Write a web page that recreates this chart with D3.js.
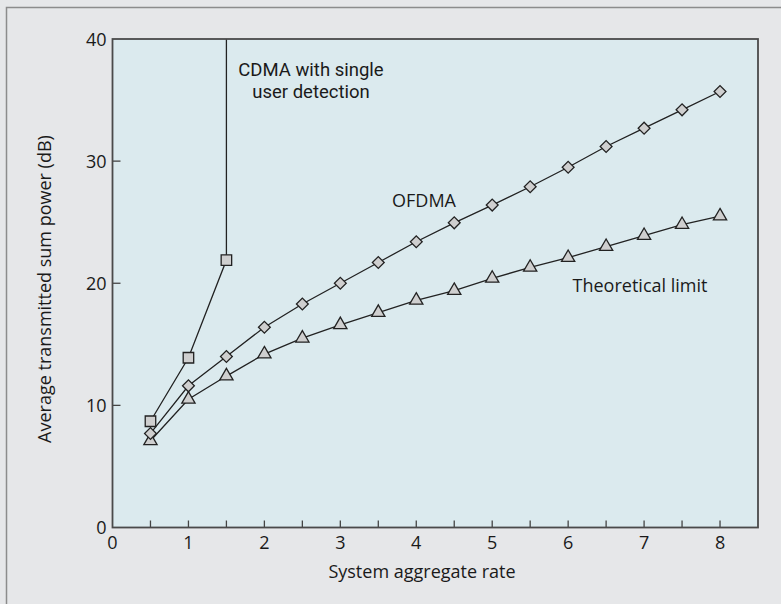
<!DOCTYPE html>
<html>
    <head>
        <meta charset="utf-8">
        <title>Sum power vs aggregate rate</title>
        <script type="text/javascript" src="https://d3js.org/d3.v7.min.js"></script>
        <style>
            body { margin: 0; background: #e6e7e9; }
            text { font-family: 'Open Sans', sans-serif; fill: #1a1a1a; }
        </style>
    </head>
    <body>
        <script type="text/javascript">
            let width = 781;
            let height = 604;

            // data
            let rates = [0.5, 1, 1.5, 2, 2.5, 3, 3.5, 4, 4.5, 5, 5.5, 6, 6.5, 7, 7.5, 8];
            let ofdma = [7.7, 11.6, 14.0, 16.4, 18.3, 20.0, 21.7, 23.4, 24.95, 26.4, 27.9, 29.5, 31.2, 32.7, 34.2, 35.7];
            let theoretical = [7.1, 10.5, 12.4, 14.2, 15.5, 16.6, 17.6, 18.6, 19.4, 20.4, 21.3, 22.1, 23.0, 23.9, 24.8, 25.5];
            let cdmaRates = [0.5, 1, 1.5];
            let cdma = [8.7, 13.9, 21.9];
            let xTicks = [0, 1, 2, 3, 4, 5, 6, 7, 8];
            let xMinorTicks = [0.5, 1, 1.5, 2, 2.5, 3, 3.5, 4, 4.5, 5, 5.5, 6, 6.5, 7, 7.5, 8];
            let yTicks = [0, 10, 20, 30, 40];

            let margin = {left: 112.5, top: 39, right: 23, bottom: 76.5};
            let plotW = width - margin.left - margin.right;
            let plotH = height - margin.top - margin.bottom;

            let svg = d3.select('body')
                .append('svg')
                .attr('width', width)
                .attr('height', height);

            // outer frame
            svg.append('rect')
                .attr('x', 6.5).attr('y', 7.5)
                .attr('width', width).attr('height', height)
                .attr('fill', '#e6e7e9')
                .attr('stroke', '#8c8c8c')
                .attr('stroke-width', 1.5);

            let x = d3.scaleLinear().domain([0, 8.5]).range([0, plotW]);
            let y = d3.scaleLinear().domain([0, 40]).range([plotH, 0]);

            let g = svg.append('g')
                .attr('transform', `translate(${margin.left},${margin.top})`);

            g.append('rect')
                .attr('width', plotW).attr('height', plotH)
                .attr('fill', '#dbeaee');

            g.append('clipPath').attr('id', 'clip')
                .append('rect').attr('width', plotW).attr('height', plotH);

            // inward ticks
            g.selectAll('.xtick')
                .data(xMinorTicks)
                .enter()
                .append('line')
                    .attr('x1', d => x(d)).attr('x2', d => x(d))
                    .attr('y1', plotH).attr('y2', plotH - 7)
                    .attr('stroke', '#444').attr('stroke-width', 1.3);

            g.selectAll('.ytick')
                .data(yTicks.slice(1, 4))
                .enter()
                .append('line')
                    .attr('x1', 0).attr('x2', 8)
                    .attr('y1', d => y(d)).attr('y2', d => y(d))
                    .attr('stroke', '#444').attr('stroke-width', 1.3);

            g.selectAll('.xlab')
                .data(xTicks)
                .enter()
                .append('text')
                    .text(d => d)
                    .attr('x', d => x(d))
                    .attr('y', plotH + 21)
                    .attr('text-anchor', 'middle')
                    .style('font-size', '18px');

            g.selectAll('.ylab')
                .data(yTicks)
                .enter()
                .append('text')
                    .text(d => d)
                    .attr('x', -6)
                    .attr('y', d => y(d) + 6.5)
                    .attr('text-anchor', 'end')
                    .style('font-size', '18px');

            svg.append('text')
                .text('System aggregate rate')
                .attr('x', 422)
                .attr('y', 578)
                .attr('text-anchor', 'middle')
                .style('font-size', '18px');

            svg.append('text')
                .text('Average transmitted sum power (dB)')
                .attr('transform', 'translate(51,289) rotate(-90)')
                .attr('text-anchor', 'middle')
                .style('font-size', '18px');

            // series lines
            let line = d3.line()
                .x(d => x(d[0]))
                .y(d => y(d[1]));

            let lines = g.append('g').attr('clip-path', 'url(#clip)');

            lines.append('path')
                .attr('d', line(rates.map((r, i) => [r, theoretical[i]])))
                .attr('fill', 'none').attr('stroke', '#222').attr('stroke-width', 1.3);

            lines.append('path')
                .attr('d', line(rates.map((r, i) => [r, ofdma[i]])))
                .attr('fill', 'none').attr('stroke', '#222').attr('stroke-width', 1.3);

            // CDMA curve goes off the scale after its last point
            let cdmaPts = cdmaRates.map((r, i) => [r, cdma[i]]);
            cdmaPts.push([cdmaRates[cdmaRates.length - 1], y.domain()[1]]);
            lines.append('path')
                .attr('d', line(cdmaPts))
                .attr('fill', 'none').attr('stroke', '#222').attr('stroke-width', 1.3);

            // markers
            let sym = (type, size) => d3.symbol().type(type).size(size)();

            g.selectAll('.tri')
                .data(rates.map((r, i) => [r, theoretical[i]]))
                .enter()
                .append('path')
                    .attr('d', sym(d3.symbolTriangle, 76))
                    .attr('transform', d => `translate(${x(d[0])},${y(d[1])})`)
                    .attr('fill', '#cfcfcf').attr('stroke', '#222').attr('stroke-width', 1.3);

            g.selectAll('.dia')
                .data(rates.map((r, i) => [r, ofdma[i]]))
                .enter()
                .append('path')
                    .attr('d', sym(d3.symbolSquare, 70))
                    .attr('transform', d => `translate(${x(d[0])},${y(d[1])}) rotate(45)`)
                    .attr('fill', '#cfcfcf').attr('stroke', '#222').attr('stroke-width', 1.3);

            g.selectAll('.sq')
                .data(cdmaRates.map((r, i) => [r, cdma[i]]))
                .enter()
                .append('path')
                    .attr('d', sym(d3.symbolSquare, 110))
                    .attr('transform', d => `translate(${x(d[0])},${y(d[1])})`)
                    .attr('fill', '#cfcfcf').attr('stroke', '#222').attr('stroke-width', 1.3);

            // plot border
            g.append('rect')
                .attr('width', plotW).attr('height', plotH)
                .attr('fill', 'none')
                .attr('stroke', '#4a4a4a')
                .attr('stroke-width', 1.8);

            // annotations (two-line note uses Roboto, whose shorter line box fits the tight leading)
            let notes = [
                {lines: ['CDMA with single', 'user detection'], x: 311, y: 76, font: 'Roboto', size: 18.5, lead: 22},
                {lines: ['OFDMA'], x: 424, y: 207, font: 'Open Sans', size: 18, lead: 0},
                {lines: ['Theoretical limit'], x: 640, y: 292, font: 'Open Sans', size: 18, lead: 0}
            ];
            notes.forEach(n => {
                n.lines.forEach((s, i) => {
                    svg.append('text')
                        .text(s)
                        .attr('x', n.x)
                        .attr('y', n.y + i * n.lead)
                        .attr('text-anchor', 'middle')
                        .style('font-family', n.font)
                        .style('font-size', n.size + 'px');
                });
            });
        </script>
    </body>
</html>
